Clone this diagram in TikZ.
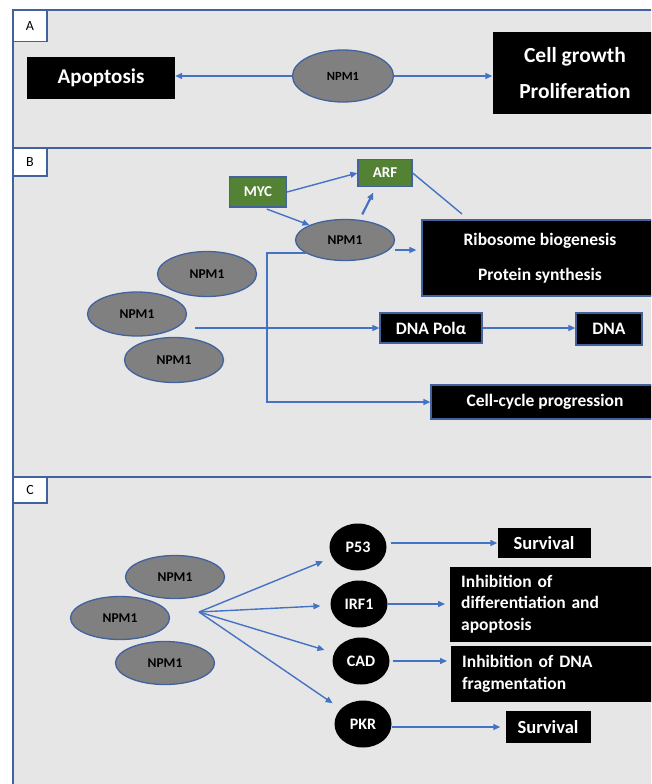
\documentclass[tikz,border=0pt]{standalone}
\usepackage{fontspec}
\setmainfont{Carlito}
\usetikzlibrary{shapes.geometric, arrows.meta}
\definecolor{panelgray}{HTML}{E7E6E6}
\definecolor{lineblue}{HTML}{41629F}
\definecolor{arrowblue}{HTML}{4472C4}
\definecolor{ovalgray}{HTML}{808080}
\definecolor{boxgreen}{HTML}{548235}
\newcommand{\npm}{NPM1}
\tikzset{
        panel/.style = {draw=lineblue, line width=1.8pt, fill=panelgray},
        tag/.style = {draw=lineblue, line width=1.6pt, fill=white, inner sep=0pt, minimum width=34pt, minimum height=31pt, font=\fontsize{14}{16}\selectfont},
        oval/.style = {ellipse, draw=lineblue, line width=1.3pt, fill=ovalgray, inner sep=0pt, minimum width=99pt, minimum height=43pt, font=\bfseries\fontsize{13.5}{16}\selectfont},
        blackbox/.style = {rectangle, fill=black, text=white, inner sep=0pt, font=\bfseries\fontsize{17.5}{20}\selectfont},
        bluebox/.style = {blackbox, draw=lineblue, line width=1.2pt},
        greenbox/.style = {rectangle, draw=lineblue, line width=1.3pt, fill=boxgreen, text=white, inner sep=0pt, font=\bfseries\fontsize{15}{18}\selectfont},
        blob/.style = {ellipse, fill=black, text=white, inner sep=0pt, minimum width=57pt, minimum height=47pt, font=\bfseries\fontsize{16}{18}\selectfont},
        link/.style = {draw=arrowblue, line width=1.4pt, -{Triangle[length=7pt, width=6pt]}},
}

\begin{document}
\begin{tikzpicture}[x=1pt, y=-1pt]
        \useasboundingbox (0,0) rectangle (651,784);
        \clip (0,0) rectangle (651,784);
        % panels
        \draw[panel] (13,10) rectangle (670,148);
        \draw[panel] (13,148) rectangle (670,477);
        \draw[panel] (13,477) rectangle (670,800);
        \node[tag] (tagA) at (30,26) {A};
        \node[tag, minimum height=28pt] (tagB) at (30,162) {B};
        \node[tag, minimum height=26pt] (tagC) at (30,490) {C};

        % A
        \node[oval, minimum width=101pt, minimum height=52pt, font=\bfseries\fontsize{12.5}{15}\selectfont] (npmA) at (343,76) {\npm};
        \node[blackbox, minimum width=148pt, minimum height=42pt, font=\bfseries\fontsize{21}{25}\selectfont] (apop) at (101,78) {Apoptosis};
        \node[blackbox, minimum width=165pt, minimum height=81pt, align=center, font=\bfseries\fontsize{21.5}{36}\selectfont] (growth) at (575,73) {Cell growth\\Proliferation};
        \draw[link] (npmA.west) -- (npmA.west -| apop.east);
        \draw[link] (npmA.east) -- (npmA.east -| growth.west);

        % B
        \node[oval, minimum height=41pt] (npmB) at (345,240) {\npm};
        \node[greenbox, minimum width=57pt, minimum height=30pt] (myc) at (258,192) {MYC};
        \node[greenbox, minimum width=54pt, minimum height=27pt] (arf) at (385,173) {ARF};
        \node[bluebox, minimum width=236pt, minimum height=76pt, align=center, font=\bfseries\fontsize{17.5}{35}\selectfont] (ribo) at (540,258) {Ribosome biogenesis\\Protein synthesis};
        \node[oval, minimum height=45pt] (npmB1) at (207,274) {\npm};
        \node[oval, minimum height=44pt] (npmB2) at (137,314) {\npm};
        \node[oval, minimum height=45pt] (npmB3) at (174,360) {\npm};
        \node[bluebox, minimum width=102pt, minimum height=30pt] (pol) at (431,328) {DNA Polα};
        \node[bluebox, minimum width=66pt, minimum height=32pt] (dna) at (609,329) {DNA};
        \node[bluebox, minimum width=228pt, minimum height=34pt] (cc) at (545,402) {Cell-cycle progression};
        \coordinate (fork) at (267,253);
        \coordinate (forktop) at (306,253);
        \coordinate (arfend) at (462,214);
        \coordinate (polstart) at (195,328);
        \draw[link] (myc.east) -- (arf.west);
        \draw[link, shorten <=4pt] ([xshift=5pt]myc.south) -- (npmB.north west);
        \draw[link, line width=2.2pt, shorten <=5pt, shorten >=6pt] ([xshift=15pt]npmB.north) -- ([xshift=-9pt]arf.south);
        \draw[arrowblue, line width=1.4pt] (arf.east) -- (arfend);
        \draw[link, shorten >=5pt] ([yshift=-10pt]npmB.east) -- ([yshift=8pt]ribo.west);
        \draw[link] (forktop) -- (fork) |- (cc.west);
        \draw[link] (polstart) -- (pol.west);
        \draw[link] (pol.east) -- (pol.east -| dna.west);

        % C
        \node[oval] (npmC1) at (175,577) {\npm};
        \node[oval] (npmC2) at (120,618) {\npm};
        \node[oval] (npmC3) at (165,663) {\npm};
        \node[blob] (p53) at (358,547) {P53};
        \node[blob] (irf) at (359,604) {IRF1};
        \node[blob] (cad) at (361,661) {CAD};
        \node[blob] (pkr) at (363,724) {PKR};
        \node[blackbox, minimum width=93pt, minimum height=30pt, font=\bfseries\fontsize{18.5}{20}\selectfont] (surv1) at (544,543) {Survival};
        \node[blackbox, anchor=west, text width=190pt, inner xsep=11pt, minimum height=75pt, align=left, font=\bfseries\fontsize{17.5}{21.5}\selectfont] (inh1) at (450,604) {Inhibition of\\differentiation and\\apoptosis};
        \node[blackbox, anchor=west, text width=190pt, inner xsep=11pt, minimum height=56pt, align=left, font=\bfseries\fontsize{17.5}{22}\selectfont] (inh2) at (451,674) {Inhibition of DNA\\fragmentation};
        \node[blackbox, minimum width=85pt, minimum height=32pt, font=\bfseries\fontsize{18.5}{20}\selectfont] (surv2) at (548,727) {Survival};
        \coordinate (hub) at (199,612);
        \foreach \t in {p53, irf, cad, pkr}
                \draw[link, shorten >=10pt] (hub) -- (\t);
        \draw[link, shorten <=4pt] (p53.east |- surv1.west) -- (surv1.west);
        \draw[link, shorten >=5pt] (irf.east) -- (irf.east -| inh1.west);
        \draw[link, shorten <=3pt, shorten >=4pt] (cad.east) -- (cad.east -| inh2.west);
        \draw[link, shorten >=5pt] (pkr.east |- surv2.west) -- (surv2.west);
\end{tikzpicture}
\end{document}
